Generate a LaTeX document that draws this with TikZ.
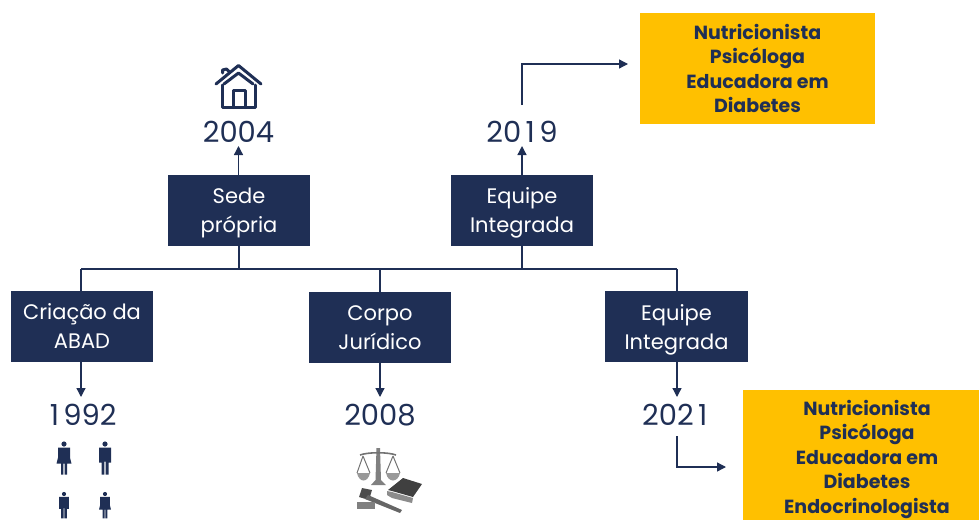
\documentclass[tikz,border=0pt]{standalone}
\usepackage{fontspec}
\setmainfont{Poppins}
\usetikzlibrary{arrows.meta}
\definecolor{navy}{HTML}{1F2F55}
\definecolor{gold}{HTML}{FFC000}
\newcommand{\wideone}{\makebox[18pt][c]{1}}
\newcommand{\lowerby}[1]{\rule{0pt}{#1pt}}
\tikzset{
  bluebox/.style={fill=navy,text=white,minimum width=142pt,minimum height=71pt,inner sep=0pt,align=center,font=\fontsize{21}{29}\selectfont},
  goldbox/.style={fill=gold,text=navy,inner sep=0pt,align=center,font=\fontsize{19}{24.6}\selectfont\bfseries},
  yearlabel/.style={text=navy,inner sep=0pt,font=\fontsize{29}{32}\selectfont},
  link/.style={draw=navy,line width=1.3pt},
  arrowlink/.style={link,-{Triangle[length=9pt,width=9pt]}},
  iconline/.style={draw=navy,line width=3pt,line join=round,line cap=round},
  greyline/.style={draw=black!55,line width=1pt}
}
\newcommand{\womanicon}[2]{%
  \fill[navy] (#1,#2-12.5) circle (2.6);
  \fill[navy] (#1-6,#2-9) -- (#1+6,#2-9) -- (#1+6,#2+1) -- (#1+7.5,#2+7) -- (#1+3,#2+7) -- (#1+3,#2+18) -- (#1+.6,#2+18) -- (#1+.6,#2+7) -- (#1-.6,#2+7) -- (#1-.6,#2+18) -- (#1-3,#2+18) -- (#1-3,#2+7) -- (#1-7.5,#2+7) -- (#1-6,#2+1) -- cycle;}
\newcommand{\manicon}[2]{%
  \fill[navy] (#1,#2-12.5) circle (2.6);
  \fill[navy] (#1-6,#2-9) -- (#1+6,#2-9) -- (#1+6,#2+6) -- (#1+3.5,#2+6) -- (#1+3.5,#2+18) -- (#1+.6,#2+18) -- (#1+.6,#2+5) -- (#1-.6,#2+5) -- (#1-.6,#2+18) -- (#1-3.5,#2+18) -- (#1-3.5,#2+6) -- (#1-6,#2+6) -- cycle;}
\begin{document}
\begin{tikzpicture}[x=1pt,y=-1pt]
\useasboundingbox (0,0) rectangle (979,519);
% boxes
\node[bluebox] (sede) at (239,210.5) {\lowerby{20}Sede\\própria};
\node[bluebox] (eqtop) at (522,210.5) {\lowerby{20}Equipe\\Integrada};
\node[bluebox] (criacao) at (82,326.5) {Criação da\\ABAD};
\node[bluebox] (corpo) at (380,327.5) {Corpo\\Jurídico};
\node[bluebox,minimum width=143pt] (eqbot) at (676.5,326.5) {\lowerby{22}Equipe\\Integrada};
% years
\node[yearlabel] (y2004) at (238.5,132) {2004};
\node[yearlabel] (y2019) at (522,132) {20\wideone9};
\node[yearlabel] (y1992) at (81,415) {\wideone992};
\node[yearlabel] (y2008) at (380,415) {2008};
\node[yearlabel] (y2021) at (677,415) {202\wideone};
% gold boxes
\node[goldbox,minimum width=235pt,minimum height=111pt] (goldtop) at (757.5,68.5) {Nutricionista\\Psicóloga\\Educadora em\\Diabetes};
\begin{scope}
\clip (0,0) rectangle (979,519);
\node[goldbox,minimum width=248pt,minimum height=134pt] (goldbot) at (867,457) {\lowerby{20}Nutricionista\\Psicóloga\\Educadora em\\Diabetes\\Endocrinologista};
\end{scope}
% bus
\coordinate (busL) at (81,269);
\coordinate (busR) at (677,269);
\draw[link] (busL) -- (busR);
\draw[link] (sede.south) -- (sede.south |- busL);
\draw[link] (eqtop.south) -- (eqtop.south |- busL);
\draw[link] (corpo.north) -- (corpo.north |- busL);
\draw[link] (busL) -- (busL |- criacao.north);
\draw[link] (busR) -- (busR |- eqbot.north);
% arrows
\coordinate (a2004) at (238.5,146);
\coordinate (a2019) at (522,146);
\coordinate (a1992) at (81,397);
\coordinate (a2008) at (380,397);
\coordinate (a2021) at (677,397);
\draw[arrowlink] (sede.north -| a2004) -- (a2004);
\draw[arrowlink] (eqtop.north) -- (a2019);
\draw[arrowlink] (criacao.south -| a1992) -- (a1992);
\draw[arrowlink] (corpo.south) -- (a2008);
\draw[arrowlink] (eqbot.south -| a2021) -- (a2021);
% elbows
\coordinate (s1) at (522,105);
\coordinate (e1) at (628,64);
\coordinate (s2) at (677,436);
\coordinate (e2) at (726,467);
\draw[arrowlink] (s1) |- (e1);
\draw[arrowlink] (s2) |- (e2);
% house icon
\begin{scope}[iconline]
\draw (216,84) -- (238.5,65.5) -- (261,84);
\draw (224,84) -- (238.5,73) -- (253,84);
\draw (222,85) -- (222,107.5) -- (255,107.5) -- (255,85);
\draw (233,107.5) -- (233,90) -- (245,90) -- (245,107.5);
\draw (222.5,73) -- (222.5,70) -- (226.5,69) -- (229,71.5);
\end{scope}
% people
\womanicon{64}{456.5}
\manicon{105}{456.5}
\begin{scope}[shift={(64,504)},scale=.8]
\manicon{0}{0}
\end{scope}
\begin{scope}[shift={(105,504)},scale=.8]
\womanicon{0}{0}
\end{scope}
% justice icon
\fill[black!50] (376.5,448) -- (380,448) -- (381,480) -- (386,485) -- (371,485) -- (375.5,480) -- cycle;
\draw[greyline,line width=1.6pt] (360,455) .. controls (368,452) and (388,452) .. (396,455);
\draw[greyline] (363,456) -- (357,473) (363,456) -- (370,473);
\draw[greyline] (393,456) -- (386,473) (393,456) -- (400,473);
\fill[black!40] (357,473) .. controls (359,483) and (368,483) .. (370,473) -- cycle;
\fill[black!40] (386,473) .. controls (388,483) and (398,483) .. (400,473) -- cycle;
\fill[black!75] (388,490) -- (403,478) -- (422,484) -- (413,497) -- (392,491) -- cycle;
\fill[black!45] (387,491) -- (392,492) -- (413,498) -- (412,503) -- (392,498) -- (387,495) -- cycle;
\fill[black!70] (362,488) -- (372,490) -- (369,500) -- (359,497) -- cycle;
\fill[black!60] (368,495) -- (402,510) -- (400,513) -- (365,499) -- cycle;
\fill[black!50] (357,502) -- (375,502) -- (375,509) -- (357,509) -- cycle;
\end{tikzpicture}
\end{document}
